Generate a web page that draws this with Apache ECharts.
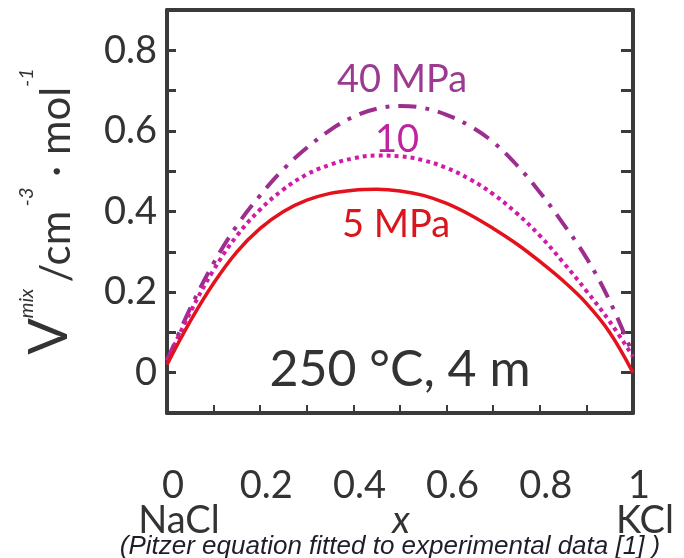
<!DOCTYPE html>
<html>
<head>
<meta charset="utf-8">
<script src="https://cdn.jsdelivr.net/npm/echarts@6/dist/echarts.min.js"></script>
<style>
  html, body { margin: 0; padding: 0; background: #fff; }
  #chart { width: 684px; height: 558px; }
</style>
</head>
<body>
<div id="chart"></div>
<script>
// Mole fraction of KCl in the NaCl-KCl mixture
const xValues = [0, 0.05, 0.1, 0.15, 0.2, 0.25, 0.3, 0.35, 0.4, 0.45, 0.5,
                 0.55, 0.6, 0.65, 0.7, 0.75, 0.8, 0.85, 0.9, 0.95, 1.0];

// Excess volume of mixing, cm^3/mol, at 250 °C and 4 m
const v5MPa  = [0.02, 0.128, 0.222, 0.300, 0.358, 0.400, 0.428, 0.445, 0.453, 0.455, 0.451,
                0.44, 0.42, 0.392, 0.358, 0.32, 0.276, 0.228, 0.172, 0.1, 0.0];
const v10MPa = [0.03, 0.15, 0.255, 0.34, 0.405, 0.455, 0.492, 0.516, 0.532, 0.539, 0.537,
                0.527, 0.508, 0.48, 0.443, 0.396, 0.34, 0.274, 0.203, 0.127, 0.04];
const v40MPa = [0.03, 0.16, 0.272, 0.365, 0.44, 0.505, 0.558, 0.602, 0.635, 0.655, 0.662,
                0.657, 0.64, 0.612, 0.572, 0.516, 0.448, 0.37, 0.285, 0.178, 0.045];

const yTickLabels = ['0', '0.2', '0.4', '0.6', '0.8'];
const xTickLabels = ['0', '0.2', '0.4', '0.6', '0.8', '1'];

const pairs = ys => xValues.map((x, i) => [x, ys[i]]);

const AXIS = '#3a3a3a';
const FONT = 'Lato, "Open Sans", sans-serif';

const chart = echarts.init(document.getElementById('chart'), null, { renderer: 'canvas' });

const fmt = list => v => {
  const s = String(Math.round(v * 10) / 10);
  return list.includes(s) ? s : '';
};

const frameAxis = {
  axisLine: { show: true, onZero: false, lineStyle: { color: AXIS, width: 4 } },
  splitLine: { show: false }
};

chart.setOption({
  animation: false,
  backgroundColor: '#ffffff',
  grid: { left: 167, right: 51, top: 10, bottom: 145, containLabel: false, outerBoundsMode: 'none' },
  xAxis: [
    Object.assign({}, frameAxis, {
      type: 'value', position: 'bottom', min: 0, max: 1, interval: 0.1,
      axisTick: { show: true, inside: true, length: 8, lineStyle: { color: AXIS, width: 2 } },
      axisLabel: {
        formatter: fmt(xTickLabels), margin: 54, color: '#333',
        fontFamily: FONT, fontSize: 38, padding: [0, 0, 0, 12]
      }
    }),
    Object.assign({}, frameAxis, {
      type: 'value', position: 'top', min: 0, max: 1,
      axisTick: { show: false }, axisLabel: { show: false }
    })
  ],
  yAxis: [
    Object.assign({}, frameAxis, {
      type: 'value', position: 'left', min: -0.1, max: 0.9, interval: 0.1,
      axisTick: { show: true, inside: true, length: 9, lineStyle: { color: AXIS, width: 3 } },
      axisLabel: {
        formatter: fmt(yTickLabels), margin: 10, color: '#333',
        fontFamily: FONT, fontSize: 38
      },
      name: '{v|V}{sup|mix}  {n|/cm}{sup| -3}{n| · mol}{sup|-1}',
      nameLocation: 'middle',
      nameGap: 90,
      nameTextStyle: {
        color: '#333', fontFamily: FONT,
        rich: {
          v: { fontSize: 54, fontFamily: FONT, color: '#333', verticalAlign: 'bottom', lineHeight: 60 },
          n: { fontSize: 42, fontFamily: FONT, color: '#333', verticalAlign: 'bottom' },
          sup: { fontSize: 20, fontFamily: FONT, color: '#333', verticalAlign: 'top', fontStyle: 'italic' }
        }
      }
    }),
    Object.assign({}, frameAxis, {
      type: 'value', position: 'right', min: -0.1, max: 0.9, interval: 0.1,
      axisTick: { show: true, inside: true, length: 12, lineStyle: { color: AXIS, width: 3 } },
      axisLabel: { show: false }
    })
  ],
  series: [
    {
      name: '40 MPa', type: 'line', data: pairs(v40MPa), smooth: 0.4, symbol: 'none',
      lineStyle: { color: '#9c2f8e', width: 4, type: [18, 9, 4, 9], cap: 'butt' }, z: 3
    },
    {
      name: '10 MPa', type: 'line', data: pairs(v10MPa), smooth: 0.4, symbol: 'none',
      lineStyle: { color: '#d21aa6', width: 4, type: [4, 4], cap: 'butt' }, z: 4
    },
    {
      name: '5 MPa', type: 'line', data: pairs(v5MPa), smooth: 0.4, symbol: 'none',
      lineStyle: { color: '#e3121d', width: 3.5, type: 'solid' }, z: 5
    }
  ],
  graphic: [
    { type: 'text', x: 402, y: 80, style: { text: '40 MPa', fill: '#9c3a92', font: '38px ' + FONT, align: 'center', verticalAlign: 'middle' } },
    { type: 'text', x: 397, y: 140, style: { text: '10', fill: '#c0239f', font: '38px ' + FONT, align: 'center', verticalAlign: 'middle' } },
    { type: 'text', x: 396, y: 225, style: { text: '5 MPa', fill: '#d9161d', font: '38px ' + FONT, align: 'center', verticalAlign: 'middle' } },
    { type: 'text', x: 400, y: 370, style: { text: '250 °C, 4 m', fill: '#333', font: '50px ' + FONT, align: 'center', verticalAlign: 'middle' } },
    { type: 'text', x: 179, y: 521, style: { text: 'NaCl', fill: '#333', font: '38px ' + FONT, align: 'center', verticalAlign: 'middle' } },
    { type: 'text', x: 401, y: 521, style: { text: 'x', fill: '#333', font: 'italic 38px ' + FONT, align: 'center', verticalAlign: 'middle' } },
    { type: 'text', x: 645, y: 521, style: { text: 'KCl', fill: '#333', font: '38px ' + FONT, align: 'center', verticalAlign: 'middle' } },
    { type: 'text', x: 390, y: 547, style: { text: '(Pitzer equation fitted to experimental data [1] )', fill: '#1e1e2a', font: 'italic 26px "Liberation Sans", Arial, sans-serif', align: 'center', verticalAlign: 'middle' } }
  ]
});
</script>
</body>
</html>
